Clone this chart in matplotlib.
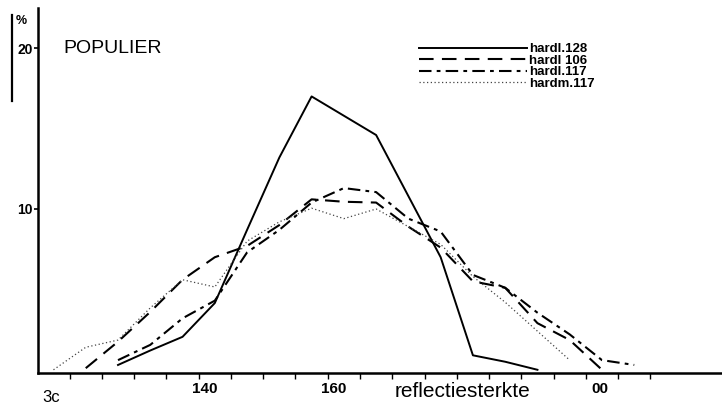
import matplotlib
matplotlib.use("Agg")
from matplotlib import pyplot as plt
from matplotlib.lines import Line2D

# class midpoints (reflectiesterkte) and percentages per sample
x_128 = [127.5, 132.5, 137.5, 142.5, 147.5, 152.5, 157.5, 162.5, 167.5,
         172.5, 177.5, 182.5, 187.5, 192.5]
y_128 = [0.3, 1.2, 2.05, 4.15, 8.7, 13.2, 17.0, 15.8, 14.6, 10.8, 7.0, 0.9, 0.5, 0.0]

x_106 = [122.5, 127.5, 132.5, 137.5, 142.5, 147.5, 152.5, 157.5, 162.5, 167.5,
         172.5, 177.5, 182.5, 187.5, 192.5, 197.5, 202.5]
y_106 = [0.1, 1.75, 3.6, 5.6, 7.0, 7.7, 9.0, 10.6, 10.45, 10.4, 8.9, 7.6, 5.5, 5.1, 2.9, 1.85, 0.0]

x_117 = [127.5, 132.5, 137.5, 142.5, 147.5, 152.5, 157.5, 162.5, 167.5, 172.5,
         177.5, 182.5, 187.5, 192.5, 197.5, 202.5, 207.5]
y_117 = [0.6, 1.55, 3.2, 4.3, 7.3, 8.7, 10.4, 11.3, 11.05, 9.4, 8.6, 5.9, 5.1, 3.55, 2.2, 0.6, 0.3]

x_m117 = [117.5, 122.5, 127.5, 132.5, 137.5, 142.5, 147.5, 152.5, 157.5, 162.5,
          167.5, 172.5, 177.5, 182.5, 187.5, 192.5, 197.5]
y_m117 = [0.0, 1.4, 1.85, 3.85, 5.6, 5.15, 8.0, 9.2, 10.05, 9.4, 10.0, 8.9, 7.8, 5.8, 4.2, 2.4, 0.6]

x_labels = {141: "140", 161: "160", 202.2: "00"}

plt.rcParams["font.family"] = ["Liberation Sans", "DejaVu Sans"]

fig = plt.figure(figsize=(7.22, 4.05), dpi=100)
ax = fig.add_axes([38 / 722, 32 / 405, 1 - 38 / 722, (373 - 8) / 405])

ax.plot(x_128, y_128, color="black", lw=1.4, label="hardl.128")
ax.plot(x_106, y_106, color="black", lw=1.5, dashes=(7, 4), label="hardl 106")
ax.plot(x_117, y_117, color="black", lw=1.5, dashes=(6, 2.5, 1.8, 2.5), label="hardl.117")
ax.plot(x_m117, y_m117, color="#444444", lw=0.9, dashes=(1, 2), label="hardm.117")

ax.set_xlim(115.1, 221.1)
ax.set_ylim(-0.2, 22.5)

for s in ["top", "right"]:
    ax.spines[s].set_visible(False)
ax.spines["left"].set_linewidth(1.8)
ax.spines["bottom"].set_linewidth(1.8)

ax.set_xticks(range(120, 215, 5))
ax.set_xticklabels([])
ax.tick_params(axis="x", direction="out", length=4, width=1)
ax.set_yticks([10, 20])
ax.set_yticklabels(["10", "20"], fontsize=10, fontweight="bold")
ax.tick_params(axis="y", direction="out", length=3, width=1.2, pad=1)

xt = ax.get_xaxis_transform()
for xv, lab in x_labels.items():
    ax.text(xv, -0.045, lab, transform=xt, ha="center", va="center",
            fontsize=11, fontweight="bold")
ax.text(117.2, -0.068, "3c", transform=xt, ha="center", va="center", fontsize=12)
ax.text(180.9, -0.05, "reflectiesterkte", transform=xt, ha="center", va="center",
        fontsize=15)

ax.text(119.0, 20.0, "POPULIER", ha="left", va="center", fontsize=14)

# "%" bar at top left
fig.add_artist(Line2D([12 / 722, 12 / 722], [1 - 15 / 405, 1 - 101 / 405],
                      color="black", lw=1.6))
fig.text(21 / 722, 1 - 21 / 405, "%", ha="center", va="center", fontsize=9,
         fontweight="bold")

ax.legend(loc="upper left", bbox_to_anchor=(419 / 722, 1 - 43 / 405),
          bbox_transform=fig.transFigure, frameon=False,
          prop={"weight": "bold", "size": 9.5}, handlelength=8.2,
          handletextpad=0.15, labelspacing=-0.06, borderpad=0, borderaxespad=0)

fig.savefig("out.png", dpi=100)
